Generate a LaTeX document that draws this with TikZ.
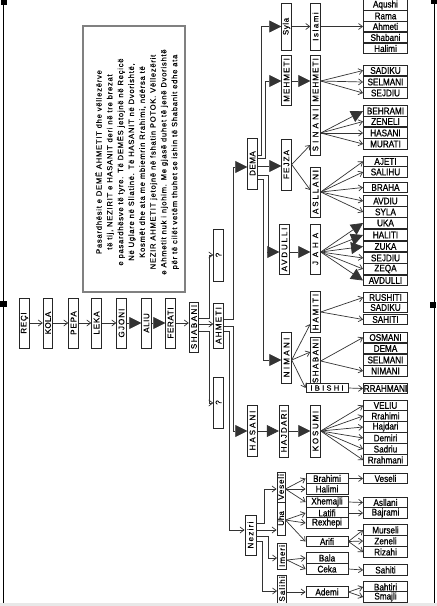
\documentclass[tikz,border=0pt]{standalone}
\usepackage{fontspec}
\usepackage{graphicx}
\setmainfont{Liberation Sans}
\newfontfamily\vfont[FakeBold=0.6]{Liberation Sans}
\newfontfamily\hfont[FakeStretch=0.85,FakeBold=0.9]{Liberation Sans}
\newfontfamily\nfont[FakeBold=0.5]{Liberation Sans}
\usetikzlibrary{arrows.meta}
\newcommand\vt[2][8]{\rotatebox{90}{\addfontfeature{LetterSpace=#1}#2}}
\tikzset{
 ln/.style={draw=black!80, line width=0.7pt},
 sa/.style={ln, -{Straight Barb[length=4pt,width=6pt,line width=0.7pt]}},
 ba/.style={ln, -{Triangle[length=12pt,width=12pt]}},
 vb/.style={draw=black!85, line width=0.9pt, fill=white, inner sep=0pt, minimum width=9.5pt, minimum height=50pt, font=\vfont\fontsize{8}{8}\selectfont},
 hb/.style={draw=black!85, line width=0.9pt, fill=white, inner sep=0pt, minimum width=44pt, minimum height=10.8pt, font=\hfont\fontsize{9.6}{9.6}\selectfont},
 mb/.style={hb, minimum width=42pt, minimum height=10.5pt},
}
\begin{document}
\begin{tikzpicture}[x=1pt,y=-1pt]
\useasboundingbox (0,0) rectangle (437,606);
\fill[white] (0,0) rectangle (437,606);
% frame
\draw[line width=1pt] (3,0) -- (3,603);
\draw[line width=1pt] (434.5,0) -- (434.5,603);
\fill (1,0) rectangle (7,5);
\fill (0,301) rectangle (7,307);
\fill (431,0) rectangle (437,4);
\fill (430,302) rectangle (436,308);
% note box
\node[draw=black!50, line width=1.2pt, minimum width=102pt, minimum height=266pt, inner sep=0pt] (note) at (134,159) {};
\node[rotate=90, align=center, inner sep=0pt, font=\nfont\fontsize{7.6}{10.8}\selectfont\addfontfeature{LetterSpace=10}] (notetext) at (137,162) {Pasardhësit e DEMË AHMETIT dhe vëllezërve\\
të tij, NEZIRIT e HASANIT deri në tre brezat\\
e pasardhësve të tyre. Të DEMËS jetojnë në Reçicë\\
Në Uglare në Sllatinë. Të HASANIT në Dvorishtë,\\
Kosmët dhe ata me mbiemrin Rrahimi, ndërsa të\\
NEZIR AHMETIT jetojnë në fshatin POTOK. Vëllezërit\\
e Ahmetit nuk i njohim. Me gjasë duhet të jenë Dvorishtë\\
për të cilët vetëm thuhet se ishin të Shabanit edhe ata};
% chain
\node[vb] (reci) at (24.5,323) {\vt[9]{REÇI}};
\node[vb] (kola) at (48,323) {\vt[5]{KOLA}};
\node[vb] (pepa) at (73.5,323) {\vt[12]{PEPA}};
\node[vb] (leka) at (96.5,323) {\vt[11]{LEKA}};
\node[vb] (gjoni) at (121.5,323) {\vt[14]{GJONI}};
\node[vb] (aliu) at (146.5,323) {\vt[7]{ALIU}};
\node[vb] (ferati) at (170.5,323) {\vt[8]{FERATI}};
\node[vb] (shabani) at (194,327) {\vt[19]{SHABANI}};
\node[vb, minimum height=45pt] (ahmeti) at (218.5,325.5) {\vt[16]{AHMETI}};
\node[vb, minimum height=52pt] (q1) at (218.5,255) {\vt{?}};
\node[vb, minimum height=51pt] (q2) at (218.5,402.5) {\vt{?}};
% column A
\node[vb, minimum height=51pt] (dema) at (252.5,163.5) {\vt[6]{DEMA}};
\node[vb, minimum height=51pt] (hasani) at (252.5,430.5) {\vt[25]{HASANI}};
\node[vb, minimum width=11pt, minimum height=40pt] (neziri) at (250.5,535) {\vt[16]{Neziri}};
% column B
\node[vb, minimum height=47pt] (syla) at (286.5,26.5) {\vt[7]{Syla}};
\node[vb] (mehA) at (286.5,80) {\vt[14]{MEHMETI}};
\node[vb, minimum height=51pt] (fejza) at (286.5,164.5) {\vt[14]{FEJZA}};
\node[vb] (avdulli) at (284.5,249.5) {\vt[23]{AVDULLI}};
\node[vb, minimum height=51pt] (nimani) at (286.5,357.5) {\vt[29]{NIMANI}};
\node[vb, minimum height=52pt] (hajdari) at (284,431) {\vt[17]{HAJDARI}};
\node[vb, minimum width=8pt, minimum height=30pt] (veseli) at (281,487) {\vt[11]{Veseli}};
\node[vb, minimum width=8pt, minimum height=33pt] (uha) at (281,518.5) {\vt[0]{Uha}};
\node[vb, minimum width=9pt, minimum height=26pt] (imeri) at (282,556) {\vt[12]{Imeri}};
\node[vb, minimum width=9pt, minimum height=28pt] (salihi) at (282,589) {\vt[14]{Salihi}};
% column C
\node[vb, minimum height=47pt] (islami) at (315.5,26.5) {\vt[19]{Islami}};
\node[vb] (mehB) at (315.5,80) {\vt[14]{MEHMETI}};
\node[vb] (sinani) at (315.5,130) {\vt[40]{SINANI}};
\node[vb] (asllani) at (315.5,192) {\vt[23]{ASLLANI}};
\node[vb] (jaha) at (315.5,249) {\vt[49]{JAHA}};
\node[vb, minimum height=41pt] (hamiti) at (315.5,312) {\vt[23]{HAMITI}};
\node[vb, minimum height=48pt] (shabani2) at (315.5,361) {\vt[19]{SHABANI}};
\node[vb, minimum height=52pt] (kosumi) at (315.5,431) {\vt[22]{KOSUMI}};
\node[mb, minimum height=8.5pt, font=\vfont\fontsize{7.5}{7.5}\selectfont\addfontfeature{LetterSpace=30}] (ibishi) at (327,388) {IBISHI};
% column D
\node[mb] (brahimi) at (327,478.5) {Brahimi};
\node[mb] (halimi) at (327,489) {Halimi};
\node[mb] (xhemajli) at (327,502) {Xhemajli};
\node[mb] (latifi) at (327,513) {Latifi};
\node[mb] (rexhepi) at (327,523) {Rexhepi};
\node[mb] (arifi) at (327,541.5) {Arifi};
\node[mb] (bala) at (327,558) {Bala};
\node[mb] (ceka) at (327,569) {Ceka};
\node[mb] (ademi) at (327,592) {Ademi};
% column E
\node[hb] (eAqushi) at (385.5,5) {Aqushi};
\node[hb] (eRama) at (385.5,16) {Rama};
\node[hb] (eAhmeti) at (385.5,26.5) {Ahmeti};
\node[hb] (eShabani) at (385.5,37.5) {Shabani};
\node[hb] (eHalimi) at (385.5,48.5) {Halimi};
\node[hb] (eSadiku) at (385.5,70.5) {SADIKU};
\node[hb] (eSelmani) at (385.5,82) {SELMANI};
\node[hb] (eSejdiu) at (385.5,93) {SEJDIU};
\node[hb] (eBehrami) at (385.5,111) {BEHRAMI};
\node[hb] (eZeneli) at (385.5,121.5) {ZENELI};
\node[hb] (eHasani) at (385.5,133) {HASANI};
\node[hb] (eMurati) at (385.5,144) {MURATI};
\node[hb] (eAjeti) at (385.5,161.5) {AJETI};
\node[hb] (eSalihu) at (385.5,172) {SALIHU};
\node[hb] (eBraha) at (385.5,187.5) {BRAHA};
\node[hb] (eAvdiu) at (385.5,201) {AVDIU};
\node[hb] (eSyla) at (385.5,212) {SYLA};
\node[hb] (eUka) at (385.5,223) {UKA};
\node[hb] (eHaliti) at (385.5,235) {HALITI};
\node[hb] (eZuka) at (385.5,246.5) {ZUKA};
\node[hb] (eSejdiuB) at (385.5,258) {SEJDIU};
\node[hb] (eZeqa) at (385.5,269) {ZEQA};
\node[hb] (eAvdulli) at (385.5,280.5) {AVDULLI};
\node[hb] (eRushiti) at (385.5,297.5) {RUSHITI};
\node[hb] (eSadikuB) at (385.5,307.5) {SADIKU};
\node[hb] (eSahiti) at (385.5,319.5) {SAHITI};
\node[hb] (eOsmani) at (385.5,337.5) {OSMANI};
\node[hb] (eDema) at (385.5,348.5) {DEMA};
\node[hb] (eSelmaniB) at (385.5,360) {SELMANI};
\node[hb] (eNimani) at (385.5,371) {NIMANI};
\node[hb] (eRrahmani) at (385.5,388.5) {RRAHMANI};
\node[hb] (eVeliu) at (385.5,405.5) {VELIU};
\node[hb] (eRrahimi) at (385.5,416) {Rrahimi};
\node[hb] (eHajdari) at (385.5,427) {Hajdari};
\node[hb] (eDemiri) at (385.5,438) {Demiri};
\node[hb] (eSadriu) at (385.5,449) {Sadriu};
\node[hb] (eRrahmaniB) at (385.5,460) {Rrahmani};
\node[hb] (eVeseli) at (385.5,478.5) {Veseli};
\node[hb] (eAsllani) at (385.5,502.5) {Asllani};
\node[hb] (eBajrami) at (385.5,513) {Bajrami};
\node[hb] (eMurseli) at (385.5,530) {Murseli};
\node[hb] (eZeneliB) at (385.5,541) {Zeneli};
\node[hb] (eRizahi) at (385.5,552) {Rizahi};
\node[hb] (eSahitiB) at (385.5,570) {Sahiti};
\node[hb] (eBahtiri) at (385.5,587) {Bahtiri};
\node[hb] (eSmajli) at (385.5,597) {Smajli};
% chain connectors
\draw[sa] (reci.east) -- (kola.west);
\draw[sa] (kola.east) -- (pepa.west);
\draw[sa] (pepa.east) -- (leka.west);
\draw[sa] (leka.east) -- (gjoni.west);
\draw[ba] (gjoni.east) -- (aliu.west);
\draw[ba] (aliu.east) -- (ferati.west);
\draw[sa] (ferati.east) -- (ferati.east -| shabani.west);
\draw[sa] (shabani.east |- 0,324) -- (ahmeti.west |- 0,324);
\draw[sa] (shabani.east |- 0,318) -- (209,318) -- (209,255) -- (q1.west |- 0,255);
\draw[sa] (shabani.east |- 0,331) -- (209,331) -- (209,403) -- (q2.west |- 0,403);
% Ahmeti branches
\draw[ba] (ahmeti.east |- 0,319) -- (233,319) -- (233,167) -- (dema.west |- 0,167);
\draw[ba] (ahmeti.east |- 0,326) -- (233,326) -- (233,431) -- (hasani.west |- 0,431);
\draw[sa] (ahmeti.east |- 0,331) -- (229,331) -- (229,530) -- (neziri.west |- 0,530);
% Dema branches
\draw[ba] (dema.east |- 0,155) -- (261,155) -- (261,26.5) -- (syla.west |- 0,26.5);
\draw[ba] (dema.east |- 0,158) -- (265,158) -- (265,81) -- (mehA.west |- 0,81);
\draw[ba] (dema.east |- 0,166) -- (fejza.west |- 0,166);
\draw[ba] (dema.east |- 0,175) -- (268,175) -- (268,252) -- (avdulli.west |- 0,252);
\draw[ba] (dema.east |- 0,179) -- (263,179) -- (263,360) -- (nimani.west |- 0,360);
\draw[sa] (syla.east) -- (islami.west);
\draw[sa] (islami.east) -- (eAhmeti.west);
\draw[ba] (mehA.east |- 0,81) -- (mehB.west |- 0,81);
\foreach \t in {eSadiku,eSelmani,eSejdiu} \draw[sa] (mehB.east |- 0,81) -- (\t.west);
\draw[sa] (fejza.east) -- (sinani.west |- 0,145);
\draw[sa] (fejza.east) -- (asllani.west |- 0,190);
\draw[ba] (sinani.east |- 0,133) -- (eBehrami.west);
\foreach \t in {eZeneli,eHasani,eMurati} \draw[sa] (sinani.east |- 0,133) -- (\t.west);
\foreach \t in {eAjeti,eSalihu,eBraha,eAvdiu,eSyla} \draw[sa] (asllani.east) -- (\t.west);
\draw[ba] (avdulli.east |- 0,252) -- (jaha.west |- 0,252);
\foreach \t in {eUka,eHaliti,eZuka,eAvdulli} \draw[ba] (jaha.east |- 0,252) -- (\t.west);
\foreach \t in {eSejdiuB,eZeqa} \draw[sa] (jaha.east |- 0,252) -- (\t.west);
% Nimani
\draw[sa] (nimani.east |- 0,360) -- (hamiti.west |- 0,324);
\draw[sa] (nimani.east |- 0,360) -- (shabani2.west |- 0,352);
\draw[sa] (nimani.east |- 0,360) -- (ibishi.west);
\foreach \t in {eRushiti,eSahiti} \draw[sa] (hamiti.east) -- (\t.west);
\foreach \t in {eOsmani,eNimani} \draw[sa] (shabani2.east) -- (\t.west);
\draw[sa] (ibishi.east) -- (eRrahmani.west);
% Hasani
\draw[ba] (hasani.east |- 0,431) -- (hajdari.west |- 0,431);
\draw[ba] (hajdari.east |- 0,431) -- (kosumi.west |- 0,431);
\foreach \t in {eVeliu,eRrahimi,eHajdari,eDemiri,eSadriu,eRrahmaniB} \draw[sa] (kosumi.east) -- (\t.west);
% Neziri
\draw[sa] (neziri.east |- 0,523) -- (264,523) -- (264,489) -- (veseli.west |- 0,489);
\draw[sa] (neziri.east |- 0,530) -- (uha.west |- 0,530);
\draw[sa] (neziri.east |- 0,536) -- (268,536) -- (268,558) -- (imeri.west |- 0,558);
\draw[sa] (neziri.east |- 0,541) -- (262,541) -- (262,591) -- (salihi.west |- 0,591);
\foreach \t in {brahimi,halimi,xhemajli} \draw[sa] (veseli.east |- 0,489) -- (\t.west);
\foreach \t in {latifi,rexhepi,arifi} \draw[sa] (uha.east |- 0,520) -- (\t.west);
\foreach \t in {bala,ceka} \draw[sa] (imeri.east |- 0,560) -- (\t.west);
\draw[sa] (salihi.east |- 0,592) -- (ademi.west);
\draw[sa] (brahimi.east) -- (eVeseli.west);
\draw[sa] (xhemajli.east) -- (eAsllani.west);
\draw[sa] (latifi.east) -- (eBajrami.west);
\foreach \t in {eMurseli,eZeneliB,eRizahi} \draw[sa] (arifi.east) -- (\t.west);
\draw[sa] (ceka.east) -- (eSahitiB.west);
\foreach \t in {eBahtiri,eSmajli} \draw[sa] (ademi.east) -- (\t.west);
% bottom band
\fill[black!9] (0,602.5) rectangle (437,606);
\end{tikzpicture}
\end{document}
